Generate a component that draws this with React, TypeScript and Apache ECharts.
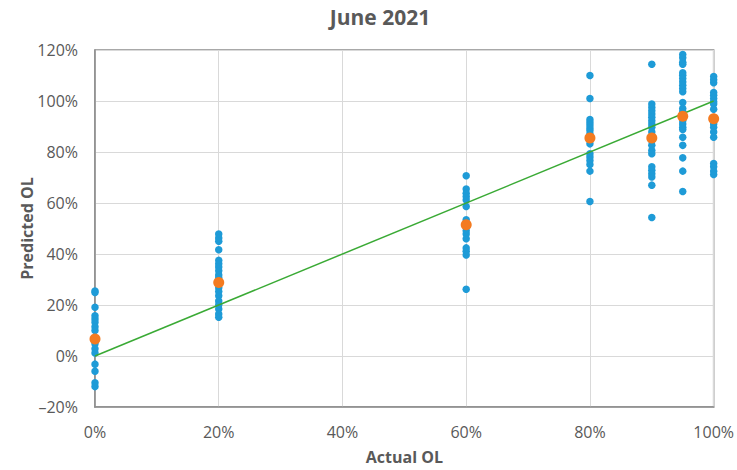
import React, { useEffect, useRef } from "react";
import * as echarts from "echarts";

const actualLevels = [0, 20, 60, 80, 90, 95, 100];
const predictedAt0 = [25.5, 24.9, 19.1, 15.8, 14.5, 13.2, 11.5, 10, 4.8, 2.8, 1.2, -3.2, -6, -10.5, -12];
const predictedAt20 = [47.8, 46.3, 45, 41.7, 37.5, 36.2, 34.9, 33.4, 31.8, 30.7, 26.8, 25.3, 23.6, 21.6, 20.1, 18.4, 16.5, 15.2];
const predictedAt60 = [70.7, 65.5, 63.8, 62.5, 61.2, 58.6, 53.4, 49.1, 47.8, 46, 42.4, 41.1, 39.6, 26.2];
const predictedAt80 = [110, 101, 92.7, 91.7, 90.6, 89.4, 88.4, 87.1, 83.2, 79.3, 78, 76.7, 75.1, 72.5, 60.6];
const predictedAt90 = [114.4, 98.8, 97.5, 96.2, 94.9, 93.6, 92.3, 91, 89.7, 87.8, 84.5, 82.6, 80.6, 79.3, 74.2, 72.8, 71.5, 70.2, 67, 54.3];
const predictedAt95 = [118.2, 117, 115.2, 114.4, 111.1, 110.1, 108.8, 107.5, 106.2, 104.9, 103.6, 99.4, 97.1, 95.8, 92.3, 91, 89.7, 88.8, 85.8, 82.6, 77.7, 72.5, 64.5];
const predictedAt100 = [109.6, 108.3, 107.2, 103.3, 102.3, 101, 99.7, 98.8, 96.8, 91, 89.7, 87.8, 85.8, 75.5, 74.2, 72.5, 71.2];
const meanPredicted = [6.7, 28.8, 51.5, 85.5, 85.5, 94, 93];
const idealLine = [0, 100];

const predictedGroups = [predictedAt0, predictedAt20, predictedAt60, predictedAt80, predictedAt90, predictedAt95, predictedAt100];

export default function App() {
  const ref = useRef<HTMLDivElement>(null);
  useEffect(() => {
    if (!ref.current) return;
    const chart = echarts.init(ref.current, undefined, { renderer: "svg" });
    const blueData: number[][] = [];
    predictedGroups.forEach((g, i) => g.forEach((v) => blueData.push([actualLevels[i], v])));
    const orangeData = actualLevels.map((x, i) => [x, meanPredicted[i]]);
    const lineData = idealLine.map((v) => [v, v]);
    const fmt = (v: number) => (v < 0 ? "\u2013" + Math.abs(v) + "%" : v + "%");
    const gray = "#595959";
    chart.setOption({
      animation: false,
      title: {
        text: "June 2021",
        left: 375,
        textAlign: "center",
        top: 1,
        textStyle: { fontFamily: "Open Sans", fontWeight: "bold", fontSize: 21, color: gray },
      },
      grid: { left: 95, right: 23, top: 50, bottom: 60, show: true, borderColor: "#8c8c8c", borderWidth: 1.5 },
      xAxis: {
        type: "value",
        min: 0,
        max: 100,
        interval: 20,
        name: "Actual OL",
        nameLocation: "middle",
        nameGap: 42,
        nameMoveOverlap: false,
        nameTextStyle: { fontFamily: "Open Sans", fontWeight: "bold", fontSize: 16, color: gray },
        axisLine: { show: true, onZero: false, lineStyle: { color: "#8c8c8c", width: 1.5 } },
        axisTick: { show: false },
        axisLabel: { formatter: fmt, fontFamily: "Open Sans", fontSize: 16, color: gray, margin: 17 },
        splitLine: { show: true, lineStyle: { color: "#d9d9d9", width: 1 } },
      },
      yAxis: {
        type: "value",
        min: -20,
        max: 120,
        interval: 20,
        name: "Predicted OL",
        nameLocation: "middle",
        nameGap: 60,
        nameMoveOverlap: false,
        nameTextStyle: { fontFamily: "Open Sans", fontWeight: "bold", fontSize: 16, color: gray },
        axisLine: { show: true, onZero: false, lineStyle: { color: "#8c8c8c", width: 1.5 } },
        axisTick: { show: false },
        axisLabel: { formatter: fmt, fontFamily: "Open Sans", fontSize: 16, color: gray, margin: 17 },
        splitLine: { show: true, lineStyle: { color: "#d9d9d9", width: 1 } },
      },
      series: [
        {
          type: "scatter",
          data: blueData,
          symbolSize: 7.5,
          itemStyle: { color: "#1e9bd7", opacity: 1 },
          z: 2,
        },
        {
          type: "line",
          data: lineData,
          symbol: "none",
          lineStyle: { color: "#3aaa35", width: 1.5 },
          z: 3,
        },
        {
          type: "scatter",
          data: orangeData,
          symbolSize: 11,
          itemStyle: { color: "#f47b20", opacity: 1 },
          z: 4,
        },
      ],
    });
    return () => chart.dispose();
  }, []);
  return <div ref={ref} style={{ position: "absolute", left: 0, top: 0, width: 737, height: 470 }} />;
}
